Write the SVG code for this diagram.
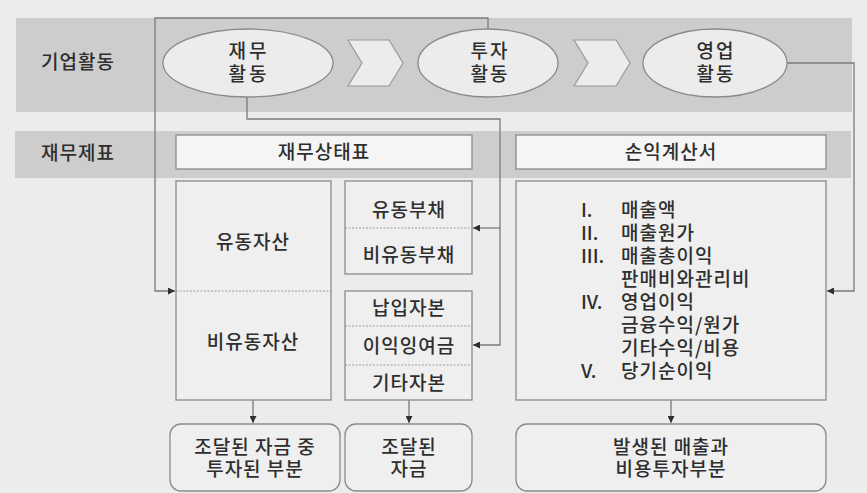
<svg xmlns="http://www.w3.org/2000/svg" width="867" height="493" viewBox="0 0 867 493">
<defs>
<style>
text{font-family:"Noto Sans CJK KR","Noto Sans",sans-serif;font-size:19px;fill:#2e2e2e;font-weight:500}
.c{text-anchor:middle}
.box{fill:#efefef;stroke:#8a8a8a;stroke-width:1.3}
.hdr{fill:#f5f5f5;stroke:#8a8a8a;stroke-width:1.3}
.ell{fill:#ececec;stroke:#8a8a8a;stroke-width:1.3}
.chev{fill:#ececec;stroke:#9a9a9a;stroke-width:1.2}
.div{stroke:#9a9a9a;stroke-width:1;stroke-dasharray:2 1.5;fill:none}
.band{fill:#cdcdcd}
.con{fill:none;stroke:#7a7a7a;stroke-width:1.3}
</style>
<marker id="ah" viewBox="0 0 10 10" refX="10" refY="5" markerWidth="7" markerHeight="7" markerUnits="userSpaceOnUse" orient="auto">
<path d="M0,0 L10,5 L0,10 z" fill="#2e2e2e"/>
</marker>
</defs>
<rect x="0" y="0" width="867" height="493" fill="#ececec"/>
<g id="band-activity">
<rect class="band" x="16" y="18" width="836" height="94"/>
<text class="c" x="78" y="69" letter-spacing="1">기업활동</text>
</g>
<g id="band-statements">
<rect class="band" x="15" y="131" width="836" height="47"/>
<text class="c" x="78" y="160" letter-spacing="1">재무제표</text>
</g>
<g id="connectors">
<polyline class="con" points="488,29 488,18 155,18 155,291 175,291" marker-end="url(#ah)"/>
<polyline class="con" points="247,97 247,119 500,119 500,345 473,345" marker-end="url(#ah)"/>
<polyline class="con" points="500,228 473,228" marker-end="url(#ah)"/>
<polyline class="con" points="787,63 854,63 854,291 827,291" marker-end="url(#ah)"/>
<line class="con" x1="253" y1="400" x2="253" y2="423" marker-end="url(#ah)"/>
<line class="con" x1="409" y1="400" x2="409" y2="423" marker-end="url(#ah)"/>
<line class="con" x1="671" y1="400" x2="671" y2="423" marker-end="url(#ah)"/>
</g>
<g id="finance-activity">
<ellipse class="ell" cx="248" cy="63" rx="85" ry="34"/>
<text class="c" x="249" y="58" letter-spacing="3">재무</text>
<text class="c" x="249" y="81" letter-spacing="3">활동</text>
</g>
<g id="chevron-1">
<polygon class="chev" points="348,40 389,40 403,63 389,86 348,86 362,63"/>
</g>
<g id="invest-activity">
<ellipse class="ell" cx="488" cy="63" rx="70" ry="34"/>
<text class="c" x="490" y="58" letter-spacing="2">투자</text>
<text class="c" x="490" y="81" letter-spacing="2">활동</text>
</g>
<g id="chevron-2">
<polygon class="chev" points="574,40 616,40 630,63 616,86 574,86 588,63"/>
</g>
<g id="operating-activity">
<ellipse class="ell" cx="715" cy="63" rx="72" ry="34"/>
<text class="c" x="716" y="58" letter-spacing="2">영업</text>
<text class="c" x="716" y="81" letter-spacing="2">활동</text>
</g>
<g id="balance-sheet-header">
<rect class="hdr" x="176" y="135" width="296" height="34"/>
<text class="c" x="324" y="159" letter-spacing="1">재무상태표</text>
</g>
<g id="income-statement-header">
<rect class="hdr" x="516" y="135" width="310" height="34"/>
<text class="c" x="671" y="159" letter-spacing="1">손익계산서</text>
</g>
<g id="assets">
<rect class="box" x="176" y="181" width="155" height="219"/>
<line class="div" x1="176" y1="291" x2="331" y2="291"/>
<text class="c" x="253" y="249" letter-spacing="1">유동자산</text>
<text class="c" x="253" y="349" letter-spacing="1">비유동자산</text>
</g>
<g id="liabilities">
<rect class="box" x="345" y="181" width="127" height="93"/>
<line class="div" x1="345" y1="228" x2="472" y2="228"/>
<text class="c" x="409" y="217" letter-spacing="1">유동부채</text>
<text class="c" x="409" y="262" letter-spacing="1">비유동부채</text>
</g>
<g id="equity">
<rect class="box" x="345" y="291" width="127" height="109"/>
<line class="div" x1="345" y1="326" x2="472" y2="326"/>
<line class="div" x1="345" y1="365" x2="472" y2="365"/>
<text class="c" x="409" y="315" letter-spacing="1">납입자본</text>
<text class="c" x="409" y="353" letter-spacing="1">이익잉여금</text>
<text class="c" x="409" y="390" letter-spacing="1">기타자본</text>
</g>
<g id="income-statement">
<rect class="box" x="516" y="181" width="310" height="219"/>
<text x="581" y="216.5">I.</text><text x="621" y="216.5" letter-spacing="1">매출액</text>
<text x="581" y="239.5">II.</text><text x="621" y="239.5" letter-spacing="1">매출원가</text>
<text x="581" y="262.5">III.</text><text x="621" y="262.5" letter-spacing="1">매출총이익</text>
<text x="621" y="285.5" letter-spacing="1">판매비와관리비</text>
<text x="581" y="308.5">IV.</text><text x="621" y="308.5" letter-spacing="1">영업이익</text>
<text x="621" y="331.5" letter-spacing="1">금융수익/원가</text>
<text x="621" y="354.5" letter-spacing="1">기타수익/비용</text>
<text x="581" y="377.5">V.</text><text x="621" y="377.5" letter-spacing="1">당기순이익</text>
</g>
<g id="invested-funds">
<rect class="box" x="170" y="424" width="170" height="67" rx="11"/>
<text class="c" x="255" y="453.5" letter-spacing="1">조달된 자금 중</text>
<text class="c" x="255" y="475.5" letter-spacing="1">투자된 부분</text>
</g>
<g id="raised-funds">
<rect class="box" x="345" y="424" width="127" height="67" rx="11"/>
<text class="c" x="409" y="453.5" letter-spacing="1">조달된</text>
<text class="c" x="409" y="475.5" letter-spacing="1">자금</text>
</g>
<g id="revenue-expense">
<rect class="box" x="516" y="424" width="310" height="67" rx="11"/>
<text class="c" x="671" y="453.5" letter-spacing="1">발생된 매출과</text>
<text class="c" x="671" y="475.5" letter-spacing="1">비용투자부분</text>
</g>
</svg>
